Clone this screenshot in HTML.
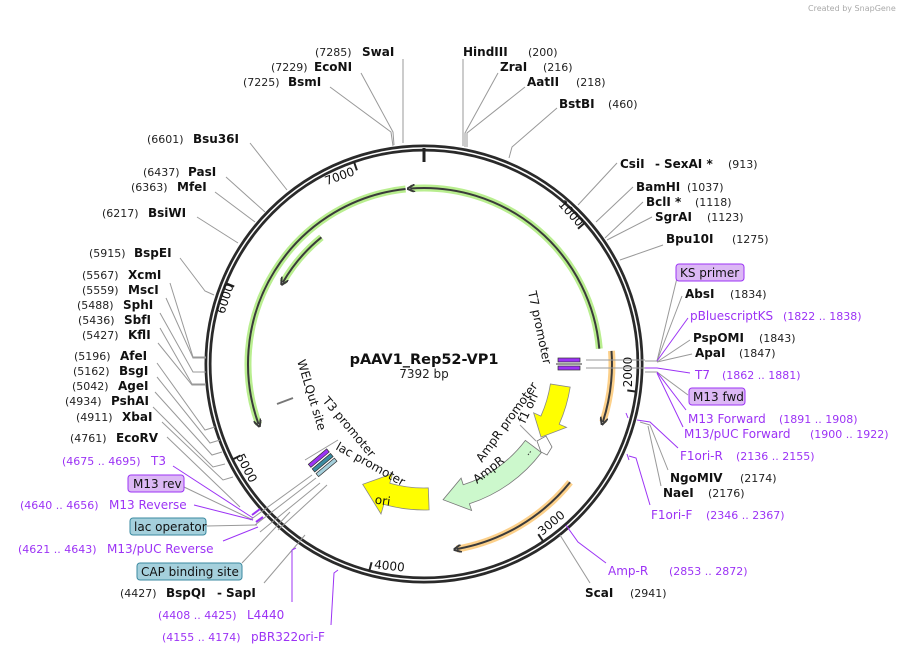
<!DOCTYPE html>
<html><head><meta charset="utf-8"><style>
html,body{margin:0;padding:0;background:#fff;}
svg{display:block;}
text{font-family:"DejaVu Sans","Liberation Sans",sans-serif;}
.n{font-size:11px;fill:#222;}
.b{font-size:12px;font-weight:bold;fill:#111;}
.p{font-size:12px;fill:#9c33f5;}
.pn{font-size:11px;fill:#9c33f5;}
.l{stroke:#999;stroke-width:1;fill:none;}
.lp{stroke:#9c33f5;stroke-width:1;fill:none;}
.t{font-size:12px;fill:#111;}
</style></head><body>
<svg width="907" height="655" viewBox="0 0 907 655" xmlns="http://www.w3.org/2000/svg">
<defs>
<marker id="ag" viewBox="0 0 10 10" refX="6" refY="5" markerWidth="4" markerHeight="4" orient="auto" markerUnits="strokeWidth">
<path d="M0,0 L10,5 L0,10" fill="none" stroke="#3a3a3a" stroke-width="2.5"/></marker>
</defs>
<text x="808" y="11" style="font-size:8px;fill:#aaa">Created by SnapGene</text>

<circle cx="424" cy="364" r="216" fill="none" stroke="#2a2a2a" stroke-width="7"/>
<circle cx="424" cy="364" r="216" fill="none" stroke="#fff" stroke-width="1.5"/>
<line x1="424" y1="148" x2="424" y2="162" stroke="#222" stroke-width="3"/>

<g stroke="#222" stroke-width="2">
<line x1="584.8" y1="222.8" x2="578" y2="228.7"/>
<line x1="636.2" y1="391.6" x2="627.3" y2="390.4"/>
<line x1="543.3" y1="541.6" x2="538.3" y2="534.2"/>
<line x1="369.3" y1="570.9" x2="371.6" y2="562.2"/>
<line x1="232.5" y1="459.5" x2="240.5" y2="455.5"/>
<line x1="225.9" y1="283.2" x2="234.2" y2="286.6"/>
<line x1="354" y1="161.8" x2="356.9" y2="170.3"/>
</g>
<g style="font-size:12px;fill:#111">
<text transform="translate(568,216) rotate(48)" text-anchor="middle">1000</text>
<text transform="translate(632,372) rotate(-90)" text-anchor="middle">2000</text>
<text transform="translate(554,526) rotate(-40)" text-anchor="middle">3000</text>
<text transform="translate(389,570) rotate(6)" text-anchor="middle">4000</text>
<text transform="translate(243,470) rotate(62)" text-anchor="middle">5000</text>
<text transform="translate(229,300) rotate(-72)" text-anchor="middle">6000</text>
<text transform="translate(341,180) rotate(-20)" text-anchor="middle">7000</text>
</g>

<g fill="none" stroke-linecap="butt">
<path d="M599.3 348.7 A176 176 0 0 0 410.2 188.5" stroke="#b9ee8f" stroke-width="7"/>
<path d="M599.3 348.7 A176 176 0 0 0 410.2 188.5" stroke="#3a3a3a" stroke-width="2" marker-end="url(#ag)"/>
<path d="M405.6 189 A176 176 0 0 0 258.6 424.2" stroke="#b9ee8f" stroke-width="7"/>
<path d="M405.6 189 A176 176 0 0 0 258.6 424.2" stroke="#3a3a3a" stroke-width="2" marker-end="url(#ag)"/>
<path d="M321.4 237.3 A163 163 0 0 0 282.8 282.5" stroke="#b9ee8f" stroke-width="7"/>
<path d="M321.4 237.3 A163 163 0 0 0 282.8 282.5" stroke="#3a3a3a" stroke-width="2" marker-end="url(#ag)"/>
<path d="M611.5 350.9 A188 188 0 0 1 602.8 422.1" stroke="#fcd08a" stroke-width="7"/>
<path d="M611.5 350.9 A188 188 0 0 1 602.8 422.1" stroke="#3a3a3a" stroke-width="2" marker-end="url(#ag)"/>
<path d="M570.1 482.3 A188 188 0 0 1 456.6 549.1" stroke="#fcd08a" stroke-width="7"/>
<path d="M570.1 482.3 A188 188 0 0 1 456.6 549.1" stroke="#3a3a3a" stroke-width="2" marker-end="url(#ag)"/>
</g>

<path d="M570.2 387.1 A148 148 0 0 1 559.2 424.2 L566.5 427.4 L541 437.1 L533.6 412.8 L540.9 416.1 A128 128 0 0 0 550.4 384 Z" fill="#ffff00" stroke="#888" stroke-width="0.8"/>
<path d="M541.4 452.5 A147 147 0 0 1 469.4 503.8 L471.6 510.5 L443.1 499.7 L461.1 478.1 L463.2 484.8 A127 127 0 0 0 525.4 440.4 Z" fill="#ccf8cc" stroke="#777" stroke-width="0.8"/>
<line x1="528" y1="455" x2="531" y2="451" stroke="#333" stroke-width="1" stroke-dasharray="1.5 1.5"/>
<path d="M537 441 L546 436 L552 447 L547 455 L541 452 Z" fill="#fff" stroke="#777" stroke-width="0.8"/>
<line x1="520" y1="425" x2="536" y2="441" class="l"/>
<path d="M429.1 509.9 A146 146 0 0 1 383.8 504.4 L381 514 L362.7 484.3 L392.6 473.6 L389.8 483.2 A124 124 0 0 0 428.3 487.9 Z" fill="#ffff00" stroke="#888" stroke-width="0.8"/>
<text x="375" y="505" class="t" transform="rotate(8 385 500)">ori</text>

<text class="t" transform="translate(528,292) rotate(78)">T7 promoter</text>
<text class="t" transform="translate(482,463) rotate(-54)">AmpR promoter</text>
<text class="t" transform="translate(525,424) rotate(-65)">f1 ori</text>
<text class="t" transform="translate(477,484) rotate(-38)">AmpR</text>
<text class="t" transform="translate(297,361) rotate(73)">WELQut site</text>
<text class="t" transform="translate(322,401) rotate(50)">T3 promoter</text>
<text class="t" transform="translate(335,449) rotate(29)">lac promoter</text>

<text x="424" y="364" text-anchor="middle" style="font-size:14.5px;font-weight:bold;fill:#111">pAAV1_Rep52-VP1</text>
<text x="424" y="378" text-anchor="middle" style="font-size:12px;fill:#222">7392 bp</text>

<g>
<rect x="558" y="358" width="22" height="4" fill="#9c33f5" stroke="#333" stroke-width="0.7"/>
<rect x="558" y="366" width="22" height="4" fill="#9c33f5" stroke="#333" stroke-width="0.7"/>
<line x1="556" y1="364" x2="582" y2="364" stroke="#333"/>
<line x1="586" y1="360" x2="645" y2="360" class="l"/>
<line x1="586" y1="368" x2="645" y2="368" class="l"/>
</g>
<line x1="277" y1="404" x2="293" y2="398" stroke="#777" stroke-width="2"/>
<g transform="rotate(-40 322 462)">
<rect x="310" y="455" width="24" height="4" fill="#9c33f5" stroke="#333" stroke-width="0.7"/>
<rect x="310" y="461" width="24" height="4" fill="#3b8aa0" stroke="#333" stroke-width="0.7"/>
<rect x="310" y="467" width="24" height="4" fill="#a5d0dc" stroke="#333" stroke-width="0.7"/>
</g>
<g class="l">
<line x1="338" y1="440" x2="305" y2="460"/>
<line x1="316" y1="478" x2="255" y2="525"/>
<line x1="312" y1="475" x2="250" y2="520"/>
<line x1="320" y1="483" x2="260" y2="532"/>
<line x1="327" y1="485" x2="278" y2="530"/>
</g>

<g class="l">
<polyline points="403,59 403,143"/>
<polyline points="361,73 393,132 394,145"/>
<polyline points="330,87 391,132 393,146"/>
<polyline points="463,59 463,146"/>
<polyline points="498,73 465,133 465,147"/>
<polyline points="525,87 467,133 467,147"/>
<polyline points="557,108 512,147 509,158"/>
<polyline points="250,143 287,190"/>
<polyline points="226,177 265,212"/>
<polyline points="215,192 255,222"/>
<polyline points="197,217 238,243"/>
<polyline points="180,258 205,291 214,295"/>
<polyline points="170,283 193,357 206,357"/>
<polyline points="166,298 193,358 206,358"/>
<polyline points="160,313 193,372 206,372"/>
<polyline points="160,328 192,384 206,384"/>
<polyline points="158,343 192,385 206,385"/>
<polyline points="157,363 205,430 215,427"/>
<polyline points="157,377 210,443 220,440"/>
<polyline points="155,392 212,455 222,452"/>
<polyline points="153,407 213,467 225,464"/>
<polyline points="162,422 223,480 233,477"/>
<polyline points="167,437 240,507"/>
<polyline points="184,487 253,520"/>
<polyline points="207,526 257,525"/>
<polyline points="242,563 290,512"/>
<polyline points="264,583 305,535"/>
<polyline points="617,163 578,205"/>
<polyline points="633,187 596,222"/>
<polyline points="643,202 605,238"/>
<polyline points="652,217 607,240"/>
<polyline points="663,245 620,260"/>
<polyline points="677,278 657,361 645,361"/>
<polyline points="682,296 657,361"/>
<polyline points="690,340 657,362"/>
<polyline points="692,354 657,362"/>
<polyline points="688,395 657,372 645,372"/>
<polyline points="668,470 650,425 640,422"/>
<polyline points="661,486 648,426"/>
<polyline points="590,583 560,535"/>
</g>
<g class="lp">
<polyline points="173,466 253,518"/>
<polyline points="194,505 253,520"/>
<polyline points="223,541 258,527"/>
<polyline points="292,602 292,550 296,548"/>
<polyline points="331,625 334,573 338,570"/>
<polyline points="688,318 657,361"/>
<polyline points="690,373 657,368 645,368"/>
<polyline points="686,410 657,372"/>
<polyline points="683,427 657,373"/>
<polyline points="678,448 650,422 637,420"/>
<polyline points="650,505 636,458 629,456"/>
<polyline points="606,563 578,542 568,528"/>
<line x1="626" y1="413" x2="628" y2="418"/>
<line x1="627" y1="454" x2="629" y2="460"/>
<line x1="566" y1="525" x2="569" y2="529"/>
<line x1="252" y1="515" x2="260" y2="509" stroke-width="2"/>
<line x1="256" y1="522" x2="263" y2="517" stroke-width="2"/>
</g>

<text x="315" y="56" class="n">(7285)</text><text x="362" y="56" class="b">SwaI</text>
<text x="271" y="71" class="n">(7229)</text><text x="314" y="71" class="b">EcoNI</text>
<text x="243" y="86" class="n">(7225)</text><text x="288" y="86" class="b">BsmI</text>
<text x="463" y="56" class="b">HindIII</text><text x="528" y="56" class="n">(200)</text>
<text x="500" y="71" class="b">ZraI</text><text x="543" y="71" class="n">(216)</text>
<text x="527" y="86" class="b">AatII</text><text x="576" y="86" class="n">(218)</text>
<text x="559" y="108" class="b">BstBI</text><text x="608" y="108" class="n">(460)</text>
<text x="147" y="143" class="n">(6601)</text><text x="193" y="143" class="b">Bsu36I</text>
<text x="143" y="176" class="n">(6437)</text><text x="188" y="176" class="b">PasI</text>
<text x="131" y="191" class="n">(6363)</text><text x="177" y="191" class="b">MfeI</text>
<text x="102" y="217" class="n">(6217)</text><text x="148" y="217" class="b">BsiWI</text>
<text x="89" y="257" class="n">(5915)</text><text x="134" y="257" class="b">BspEI</text>
<text x="82" y="279" class="n">(5567)</text><text x="128" y="279" class="b">XcmI</text>
<text x="82" y="294" class="n">(5559)</text><text x="128" y="294" class="b">MscI</text>
<text x="77" y="309" class="n">(5488)</text><text x="123" y="309" class="b">SphI</text>
<text x="78" y="324" class="n">(5436)</text><text x="124" y="324" class="b">SbfI</text>
<text x="82" y="339" class="n">(5427)</text><text x="128" y="339" class="b">KflI</text>
<text x="74" y="360" class="n">(5196)</text><text x="120" y="360" class="b">AfeI</text>
<text x="73" y="375" class="n">(5162)</text><text x="119" y="375" class="b">BsgI</text>
<text x="72" y="390" class="n">(5042)</text><text x="118" y="390" class="b">AgeI</text>
<text x="65" y="405" class="n">(4934)</text><text x="111" y="405" class="b">PshAI</text>
<text x="76" y="421" class="n">(4911)</text><text x="122" y="421" class="b">XbaI</text>
<text x="70" y="442" class="n">(4761)</text><text x="116" y="442" class="b">EcoRV</text>
<text x="62" y="465" class="pn">(4675 .. 4695)</text><text x="151" y="465" class="p">T3</text>
<rect x="128" y="475" width="56" height="17" rx="3" fill="#dcb8f5" stroke="#9c33f5"/><text x="133" y="488" class="t">M13 rev</text>
<text x="20" y="509" class="pn">(4640 .. 4656)</text><text x="109" y="509" class="p">M13 Reverse</text>
<rect x="130" y="518" width="76" height="17" rx="3" fill="#a5d0dc" stroke="#3b8aa0"/><text x="134" y="531" class="t">lac operator</text>
<text x="18" y="553" class="pn">(4621 .. 4643)</text><text x="107" y="553" class="p">M13/pUC Reverse</text>
<rect x="137" y="563" width="105" height="17" rx="3" fill="#a5d0dc" stroke="#3b8aa0"/><text x="141" y="576" class="t">CAP binding site</text>
<text x="120" y="597" class="n">(4427)</text><text x="166" y="597" class="b">BspQI</text><text x="217" y="597" class="b">-</text><text x="226" y="597" class="b">SapI</text>
<text x="158" y="619" class="pn">(4408 .. 4425)</text><text x="247" y="619" class="p">L4440</text>
<text x="162" y="641" class="pn">(4155 .. 4174)</text><text x="251" y="641" class="p">pBR322ori-F</text>

<text x="620" y="168" class="b">CsiI</text><text x="655" y="168" class="b">-</text><text x="664" y="168" class="b">SexAI *</text><text x="728" y="168" class="n">(913)</text>
<text x="636" y="191" class="b">BamHI</text><text x="687" y="191" class="n">(1037)</text>
<text x="646" y="206" class="b">BclI *</text><text x="695" y="206" class="n">(1118)</text>
<text x="655" y="221" class="b">SgrAI</text><text x="707" y="221" class="n">(1123)</text>
<text x="666" y="243" class="b">Bpu10I</text><text x="732" y="243" class="n">(1275)</text>
<rect x="676" y="264" width="68" height="17" rx="3" fill="#dcb8f5" stroke="#9c33f5"/><text x="680" y="277" class="t">KS primer</text>
<text x="685" y="298" class="b">AbsI</text><text x="730" y="298" class="n">(1834)</text>
<text x="690" y="320" class="p">pBluescriptKS</text><text x="783" y="320" class="pn">(1822 .. 1838)</text>
<text x="693" y="342" class="b">PspOMI</text><text x="759" y="342" class="n">(1843)</text>
<text x="695" y="357" class="b">ApaI</text><text x="739" y="357" class="n">(1847)</text>
<text x="695" y="379" class="p">T7</text><text x="722" y="379" class="pn">(1862 .. 1881)</text>
<rect x="689" y="388" width="56" height="17" rx="3" fill="#dcb8f5" stroke="#9c33f5"/><text x="693" y="401" class="t">M13 fwd</text>
<text x="688" y="423" class="p">M13 Forward</text><text x="779" y="423" class="pn">(1891 .. 1908)</text>
<text x="684" y="438" class="p">M13/pUC Forward</text><text x="810" y="438" class="pn">(1900 .. 1922)</text>
<text x="680" y="460" class="p">F1ori-R</text><text x="736" y="460" class="pn">(2136 .. 2155)</text>
<text x="670" y="482" class="b">NgoMIV</text><text x="740" y="482" class="n">(2174)</text>
<text x="663" y="497" class="b">NaeI</text><text x="708" y="497" class="n">(2176)</text>
<text x="651" y="519" class="p">F1ori-F</text><text x="706" y="519" class="pn">(2346 .. 2367)</text>
<text x="608" y="575" class="p">Amp-R</text><text x="669" y="575" class="pn">(2853 .. 2872)</text>
<text x="585" y="597" class="b">ScaI</text><text x="630" y="597" class="n">(2941)</text>
</svg>
</body></html>
